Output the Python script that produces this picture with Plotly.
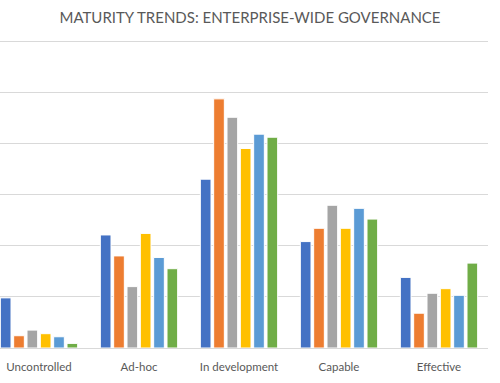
import plotly.graph_objects as go

categories = ["Uncontrolled", "Ad-hoc", "In development", "Capable", "Effective"]
series_names = ["Series 1", "Series 2", "Series 3", "Series 4", "Series 5", "Series 6"]
s1 = [9.8, 22.1, 33.0, 20.8, 13.8]
s2 = [2.4, 18.0, 48.7, 23.4, 6.8]
s3 = [3.5, 12.0, 45.1, 27.9, 10.7]
s4 = [2.8, 22.4, 39.0, 23.4, 11.6]
s5 = [2.2, 17.7, 41.8, 27.3, 10.3]
s6 = [0.9, 15.5, 41.2, 25.2, 16.6]
colors = ["#4472C4", "#ED7D31", "#A5A5A5", "#FFC000", "#5B9BD5", "#70AD47"]

fig = go.Figure()
for name, vals, c in zip(series_names, [s1, s2, s3, s4, s5, s6], colors):
    fig.add_trace(go.Bar(x=categories, y=vals, name=name,
                         marker=dict(color=c, line=dict(color="white", width=1))))

fig.update_layout(
    width=500, height=383,
    margin=dict(l=0, r=12, t=38.6, b=34.5),
    paper_bgcolor="white", plot_bgcolor="white",
    barmode="group", bargap=0.2, bargroupgap=0.2,
    showlegend=False,
    title=dict(text="MATURITY TRENDS: ENTERPRISE-WIDE GOVERNANCE",
               x=0.5, xanchor="center", y=1 - 17.5 / 383, yanchor="middle",
               font=dict(family="Lato", size=15, color="#595959")),
    xaxis=dict(range=[-0.39, 4.49], showgrid=False, showline=False,
               automargin=False,
               tickfont=dict(family="Lato", size=11.5, color="#595959"),
               ticks="", ticklabelstandoff=10),
    yaxis=dict(range=[0, 60.4], dtick=10, showticklabels=False,
               automargin=False,
               gridcolor="#D9D9D9", gridwidth=1, zeroline=True,
               zerolinecolor="#D9D9D9", zerolinewidth=1),
)

fig.write_html("out.html", config={"displayModeBar": False},
               post_script="document.body.style.margin='0';document.body.style.padding='0';")
